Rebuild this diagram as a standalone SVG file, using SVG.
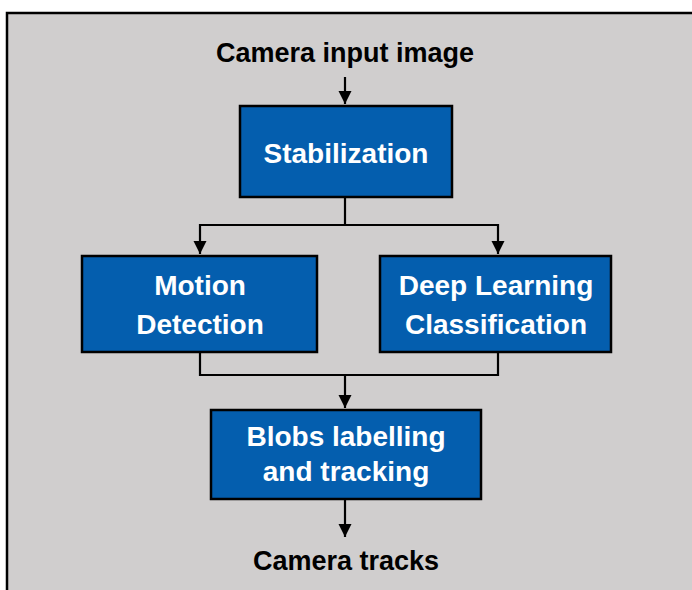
<svg xmlns="http://www.w3.org/2000/svg" width="692" height="590" viewBox="0 0 692 590">
<style>
.box{fill:#045EAE;stroke:#000;stroke-width:2.5}
.bt{fill:#fff;font-family:"Liberation Sans",Arial,sans-serif;font-weight:bold;font-size:28px;text-anchor:middle}
.lt{fill:#000;font-family:"Liberation Sans",Arial,sans-serif;font-weight:bold;font-size:27px;text-anchor:middle}
.c{fill:none;stroke:#000;stroke-width:2.2}
</style>
<defs>
<marker id="ah" viewBox="0 0 10 10" refX="10" refY="5" markerWidth="6" markerHeight="6" markerUnits="strokeWidth" orient="auto">
<path d="M0,0 L10,5 L0,10 z" fill="#000"/>
</marker>
</defs>
<rect x="7" y="13" width="700" height="590" fill="#D0CECE" stroke="#000" stroke-width="2.5"/>
<g id="connectors">
<path class="c" d="M345,77 V104" marker-end="url(#ah)"/>
<path class="c" d="M345,197 V225 H200 V254" marker-end="url(#ah)"/>
<path class="c" d="M345,225 H498 V254" marker-end="url(#ah)"/>
<path class="c" d="M200,352 V375 H498 V352"/>
<path class="c" d="M345,375 V408" marker-end="url(#ah)"/>
<path class="c" d="M345,499 V537" marker-end="url(#ah)"/>
</g>
<g id="input"><text class="lt" x="345" y="62">Camera input image</text></g>
<g id="stabilization">
<rect class="box" x="240" y="106" width="212" height="91"/>
<text class="bt" x="346" y="163">Stabilization</text>
</g>
<g id="motion">
<rect class="box" x="82" y="256" width="235" height="96"/>
<text class="bt" x="200" y="295">Motion</text>
<text class="bt" x="200" y="334">Detection</text>
</g>
<g id="deep">
<rect class="box" x="380" y="256" width="231" height="96"/>
<text class="bt" x="496" y="295">Deep Learning</text>
<text class="bt" x="496" y="334">Classification</text>
</g>
<g id="blobs">
<rect class="box" x="211" y="410" width="270" height="89"/>
<text class="bt" x="346" y="446">Blobs labelling</text>
<text class="bt" x="346" y="481">and tracking</text>
</g>
<g id="output"><text class="lt" x="346" y="570">Camera tracks</text></g>
</svg>
